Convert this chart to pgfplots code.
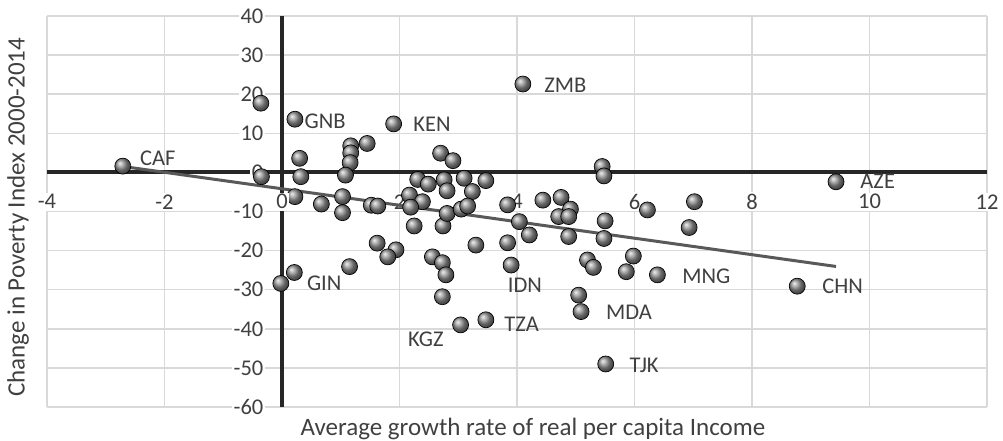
\documentclass[border=0pt]{standalone}
\usepackage{pgfplots}
\pgfplotsset{compat=1.18}
\usepackage{fontspec}
\setmainfont{Carlito}
\definecolor{txt}{HTML}{404040}
\definecolor{gridc}{HTML}{D9D9D9}
\definecolor{axc}{HTML}{262626}
\definecolor{trend}{HTML}{595959}
\pgfplotsset{
  layers/mylayers/.define layer set={
    axis background,axis grid,axis ticks,axis lines,main,axis tick labels,axis descriptions,axis foreground
  }{},
}
\pgfplotstableread{
x y
-2.71 1.6
-0.36 17.7
-0.35 -1.1
0.22 13.6
0.30 3.6
0.32 -1.1
0.22 -6.2
0.67 -8.1
1.03 -6.2
1.03 -10.3
1.90 12.4
1.17 6.8
1.17 5.0
1.45 7.4
1.16 2.5
1.08 -0.7
1.52 -8.4
1.63 -8.6
2.70 4.9
2.91 3.0
2.31 -1.8
2.49 -3.0
2.76 -1.9
2.81 -4.7
3.10 -1.5
3.24 -4.9
3.47 -2.1
2.17 -5.8
2.39 -7.5
2.19 -8.9
2.25 -13.7
2.74 -13.7
2.81 -10.5
3.05 -9.4
3.16 -8.6
3.84 -8.3
4.04 -12.6
4.21 -16.0
1.62 -18.1
1.94 -19.8
1.80 -21.6
3.30 -18.6
3.84 -18.0
5.45 1.5
5.48 -0.9
4.44 -7.1
4.75 -6.4
4.91 -9.4
4.71 -11.3
4.88 -11.3
4.88 -16.4
5.50 -12.4
5.48 -16.9
6.22 -9.6
7.02 -7.5
6.93 -14.1
3.90 -23.7
5.20 -22.4
5.30 -24.3
5.98 -21.4
5.86 -25.4
6.39 -26.2
5.05 -31.4
5.09 -35.6
3.47 -37.7
3.04 -39.0
5.51 -49.0
9.43 -2.4
8.77 -29.1
-0.02 -28.4
0.21 -25.6
1.15 -24.1
2.56 -21.6
2.73 -23.1
2.79 -26.2
2.73 -31.8
4.10 22.6
}\pts
\begin{document}
\fontsize{13.5}{16}\selectfont
\begin{tikzpicture}
\begin{axis}[
 set layers=mylayers,
 at={(28.2pt,20.4pt)}, anchor=south west,
 scale only axis, width=564pt, height=234.6pt,
 xmin=-4, xmax=12, ymin=-60, ymax=40,
 xtick={-4,-2,2,4,6,8,10,12}, ytick={-60,-50,...,40},
 extra x ticks={0}, extra x tick labels={},
 axis lines=middle,
 hide obscured x ticks=false, hide obscured y ticks=false,
 axis line style={-, line width=2.4pt, color=axc},
 grid=major, major grid style={line width=0.9pt, color=gridc},
 extra x tick style={grid=none},
 major tick length=0pt,
 /pgf/number format/assume math mode=true,
 ticklabel style={font=\fontsize{13.5}{16}\selectfont, text=txt, fill=white, inner sep=1pt},
 xticklabel style={anchor=center, yshift=-17.6pt},
 yticklabel style={anchor=east, xshift=-10pt},
 clip=false,
]
\addplot[only marks, mark=ball, mark size=4.8pt, mark options={ball color=gray!85}] table[x=x,y=y] {\pts};
\addplot[no marks, color=trend, line width=1.8pt] coordinates {(-2.71,1.52) (9.43,-24.06)};
\begin{pgfonlayer}{axis foreground}
\node[anchor=center, yshift=-17.6pt, text=txt, fill=white, inner sep=1pt, font=\fontsize{13.5}{16}\selectfont] at (axis cs:0,0) {0};
\begin{scope}[every node/.style={anchor=west, inner sep=0pt, text=txt, font=\fontsize{13.5}{16}\selectfont}]
\node at (axis cs:-2.42,3.7) {CAF};
\node at (axis cs:0.38,13.1) {GNB};
\node at (axis cs:2.23,12.4) {KEN};
\node at (axis cs:4.46,22.4) {ZMB};
\node at (axis cs:9.84,-2.2) {AZE};
\node at (axis cs:9.19,-29.2) {CHN};
\node at (axis cs:6.81,-26.5) {MNG};
\node at (axis cs:5.51,-35.9) {MDA};
\node at (axis cs:5.91,-49.3) {TJK};
\node at (axis cs:3.78,-38.8) {TZA};
\node at (axis cs:3.84,-28.8) {IDN};
\node at (axis cs:2.14,-42.6) {KGZ};
\node at (axis cs:0.42,-28.4) {GIN};
\end{scope}
\end{pgfonlayer}
\node[anchor=north, text=txt, font=\fontsize{15}{18}\selectfont, yshift=-2pt] at (axis cs:4.27,-60) {Average growth rate of real per capita Income};
\node[xshift=-17.4pt, rotate=90, anchor=center, text=txt, font=\fontsize{15}{18}\selectfont] at (axis cs:-4,-11.5) {Change in Poverty Index 2000-2014};
\end{axis}
\pgfresetboundingbox
\useasboundingbox (0,0) rectangle (601.8pt,264.6pt);
\end{tikzpicture}
\end{document}
